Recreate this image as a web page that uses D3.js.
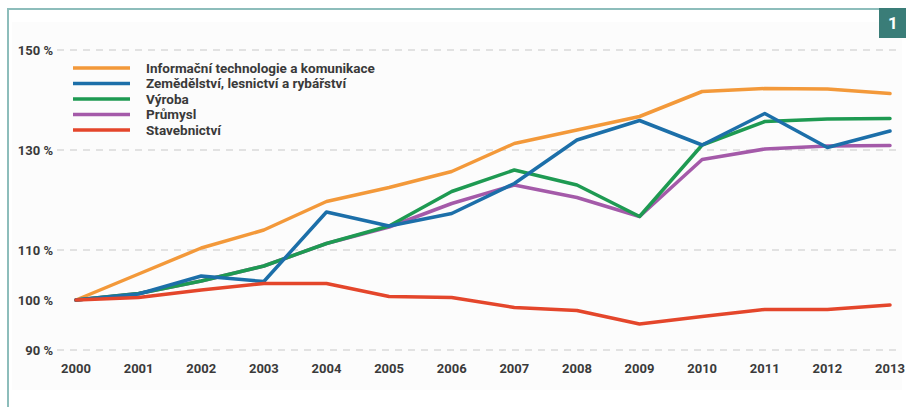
<html>
<head>
<meta charset="utf-8">
<style>
body { margin: 0; background: #fff; }
.axisLabel { font-family: Roboto, "Liberation Sans Narrow", sans-serif; font-weight: bold; fill: #3a3a3a; }
.grid { stroke: #c8c8c8; stroke-dasharray: 7,6; stroke-width: 1; }
.series { fill: none; stroke-width: 3.5; stroke-linejoin: round; stroke-linecap: round; }
</style>
</head>
<body>
<div id="vis"></div>
<script src="https://cdn.jsdelivr.net/npm/d3@7"></script>
<script>
// data (index, 2000 = 100 %)
var years = [2000, 2001, 2002, 2003, 2004, 2005, 2006, 2007, 2008, 2009, 2010, 2011, 2012, 2013];
var ictValues = [100, 105.2, 110.4, 114, 119.7, 122.5, 125.7, 131.3, 134, 136.7, 141.7, 142.3, 142.2, 141.3];
var agriValues = [100, 101.2, 104.8, 103.7, 117.6, 114.8, 117.3, 123.3, 132, 135.9, 131, 137.3, 130.5, 133.8];
var manufValues = [100, 101.3, 103.8, 106.8, 111.3, 114.8, 121.7, 126, 123, 116.7, 131, 135.7, 136.2, 136.3];
var industryValues = [100, 101.3, 103.8, 106.8, 111.3, 114.6, 119.3, 123, 120.5, 116.7, 128.1, 130.2, 130.8, 130.9];
var buildValues = [100, 100.5, 102, 103.3, 103.3, 100.7, 100.5, 98.5, 97.9, 95.2, 96.7, 98.1, 98.1, 99];
var seriesNames = ["Informační technologie a komunikace", "Zemědělství, lesnictví a rybářství", "Výroba", "Průmysl", "Stavebnictví"];
var yTicks = [150, 130, 110, 100, 90];
var gridTicks = [150, 130, 110, 90];

var series = [
	{name: seriesNames[0], values: ictValues, color: "#f3993a"},
	{name: seriesNames[1], values: agriValues, color: "#1c6fa9"},
	{name: seriesNames[2], values: manufValues, color: "#1e9a52"},
	{name: seriesNames[3], values: industryValues, color: "#a45aa9"},
	{name: seriesNames[4], values: buildValues, color: "#e4462b"}
];

var W = 906, H = 407;
var svg = d3.select("#vis").append("svg")
		.attr("width", W)
		.attr("height", H);

// frame and badge
svg.append("rect").attr("x", 12).attr("y", 22).attr("width", 890).attr("height", 368).attr("fill", "#fcfcfc");
svg.append("line").attr("x1", 8).attr("x2", 8).attr("y1", 8).attr("y2", H).attr("stroke", "#8dbdbb").attr("stroke-width", 2);
svg.append("line").attr("x1", 7).attr("x2", 880).attr("y1", 9).attr("y2", 9).attr("stroke", "#8dbdbb").attr("stroke-width", 2);
svg.append("rect").attr("x", 879).attr("y", 8).attr("width", 27).attr("height", 30).attr("fill", "#3a7d78");
svg.append("text").attr("x", 893).attr("y", 29).attr("text-anchor", "middle")
	.style("font-family", "Roboto, sans-serif").style("font-weight", "bold").style("font-size", "17px")
	.attr("fill", "#fff").text("1");

// scales
var x = d3.scaleLinear().domain([2000, 2013]).range([76, 890]);
var y = d3.scaleLinear().domain([90, 150]).range([350, 50]);

// gridlines
svg.selectAll(".grid")
		.data(gridTicks)
	.enter().append("line")
		.attr("class", "grid")
		.attr("x1", 57).attr("x2", 900)
		.attr("y1", function(d) { return y(d); })
		.attr("y2", function(d) { return y(d); });

// y labels
svg.selectAll(".yLabel")
		.data(yTicks)
	.enter().append("text")
		.attr("class", "axisLabel")
		.attr("x", 53)
		.attr("y", function(d) { return y(d); })
		.attr("dy", "0.35em")
		.attr("text-anchor", "end")
		.style("font-size", "13px")
		.text(function(d) { return d + " %"; });

// x labels
svg.selectAll(".xLabel")
		.data(years)
	.enter().append("text")
		.attr("class", "axisLabel")
		.attr("x", function(d) { return x(d); })
		.attr("y", 373)
		.attr("text-anchor", "middle")
		.style("font-size", "13px")
		.text(function(d) { return d; });

// lines
var line = d3.line()
	.x(function(d, i) { return x(years[i]); })
	.y(function(d) { return y(d); });

var drawOrder = [0, 3, 2, 1, 4];
drawOrder.forEach(function(k) {
	svg.append("path")
		.attr("class", "series")
		.attr("d", line(series[k].values))
		.attr("stroke", series[k].color);
});

// legend
var legend = svg.selectAll(".legend")
		.data(series)
	.enter().append("g")
		.attr("transform", function(d, i) { return "translate(73," + (68 + i * 15.5) + ")"; });

legend.append("line")
	.attr("x1", 0).attr("x2", 57)
	.attr("stroke", function(d) { return d.color; })
	.attr("stroke-width", 3.5);

legend.append("text")
	.attr("class", "axisLabel")
	.attr("x", 73)
	.attr("dy", "0.35em")
	.style("font-size", "13.5px")
	.text(function(d) { return d.name; });
</script>
</body>
</html>
